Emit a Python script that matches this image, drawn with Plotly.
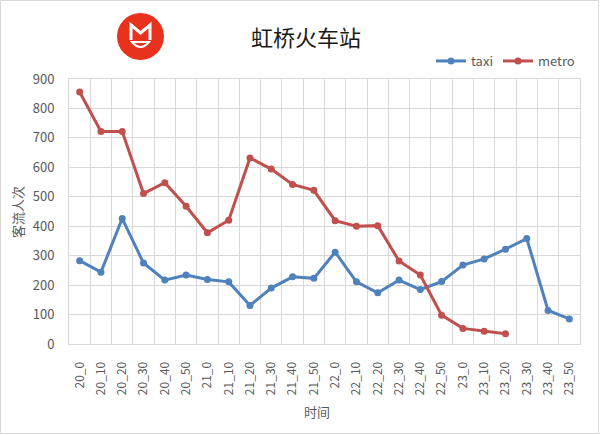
import plotly.graph_objects as go

categories = ["20_0", "20_10", "20_20", "20_30", "20_40", "20_50",
              "21_0", "21_10", "21_20", "21_30", "21_40", "21_50",
              "22_0", "22_10", "22_20", "22_30", "22_40", "22_50",
              "23_0", "23_10", "23_20", "23_30", "23_40", "23_50"]
taxi = [283, 244, 426, 275, 217, 234, 219, 211, 131, 190, 228, 223,
        312, 211, 174, 217, 185, 212, 268, 289, 322, 358, 114, 85]
metro = [856, 722, 722, 511, 548, 468, 378, 420, 632, 594, 542, 522,
         419, 400, 402, 282, 234, 98, 53, 43, 35]
y_ticks = [0, 100, 200, 300, 400, 500, 600, 700, 800, 900]

FONT = "Noto Sans CJK SC"
W, H = 600, 435
L, R, T, B = 69, 20, 79, 91
PW, PH = W - L - R, H - T - B


def px(x):
    return (x - L) / PW


def py(y):
    return (H - B - y) / PH


fig = go.Figure()
fig.add_trace(go.Scatter(x=categories, y=taxi, name="taxi", mode="lines+markers",
                         line=dict(color="#4F81BD", width=3),
                         marker=dict(color="#4F81BD", size=7)))
fig.add_trace(go.Scatter(x=categories[:len(metro)], y=metro, name="metro", mode="lines+markers",
                         line=dict(color="#C0504D", width=3),
                         marker=dict(color="#C0504D", size=7)))

shapes = [
    # outer chart border
    dict(type="rect", xref="paper", yref="paper", x0=px(0.5), x1=px(W - 1.5),
         y0=py(H - 1.5), y1=py(0.5), line=dict(color="#D9D9D9", width=1), layer="below"),
    # logo circle
    dict(type="circle", xref="paper", yref="paper", x0=px(117), x1=px(164),
         y0=py(60), y1=py(13), fillcolor="#E8321E", line=dict(width=0)),
    # logo mark (stylised M and cup)
    dict(type="path", xref="paper", yref="paper",
         path=(f"M {px(131)},{py(40)} L {px(131)},{py(25)} L {px(140.5)},{py(33)} "
               f"L {px(150)},{py(25)} L {px(150)},{py(40)}"),
         line=dict(color="white", width=3)),
    dict(type="path", xref="paper", yref="paper",
         path=(f"M {px(132)},{py(42)} Q {px(140.5)},{py(52)} {px(149)},{py(42)} Z"),
         line=dict(color="white", width=2)),
]

annotations = [
    dict(text="客流人次", xref="paper", yref="paper", x=px(17), y=py(212),
         xanchor="center", yanchor="middle", textangle=-90, showarrow=False,
         font=dict(family=FONT, size=13, color="#595959")),
    dict(text="时间", xref="paper", yref="paper", x=px(317), y=py(411),
         xanchor="center", yanchor="middle", showarrow=False,
         font=dict(family=FONT, size=13, color="#595959")),
]

fig.update_layout(
    width=W, height=H,
    margin=dict(l=L, r=R, t=T, b=B),
    paper_bgcolor="white", plot_bgcolor="white",
    font=dict(family=FONT, color="#595959", size=13),
    title=dict(text="虹桥火车站", x=306 / W, xanchor="center", y=1 - 38 / H, yanchor="middle",
               font=dict(family=FONT, size=22, color="#1a1a1a")),
    showlegend=True,
    legend=dict(orientation="h", x=1.0, xanchor="right", y=py(61), yanchor="middle",
                font=dict(family=FONT, size=13, color="#595959"),
                bgcolor="rgba(0,0,0,0)", itemwidth=30, tracegroupgap=0),
    xaxis=dict(type="category", range=[-0.5, 23.5], tickson="boundaries", automargin=False,
               showgrid=True, gridcolor="#D9D9D9", gridwidth=1,
               showline=True, linecolor="#D9D9D9", mirror=True,
               ticks="", tickangle=-90, ticklabelstandoff=12,
               tickfont=dict(size=12, color="#595959")),
    yaxis=dict(range=[0, 900], tickvals=y_ticks, showgrid=True, gridcolor="#D9D9D9",
               automargin=False, gridwidth=1, zeroline=False, showline=True,
               linecolor="#D9D9D9", mirror=True, ticks="", ticklabelstandoff=11,
               tickfont=dict(size=13, color="#595959")),
    shapes=shapes,
    annotations=annotations,
)

fig.write_html("out.html", config={"displayModeBar": False},
               post_script="document.body.style.margin='0px';")
